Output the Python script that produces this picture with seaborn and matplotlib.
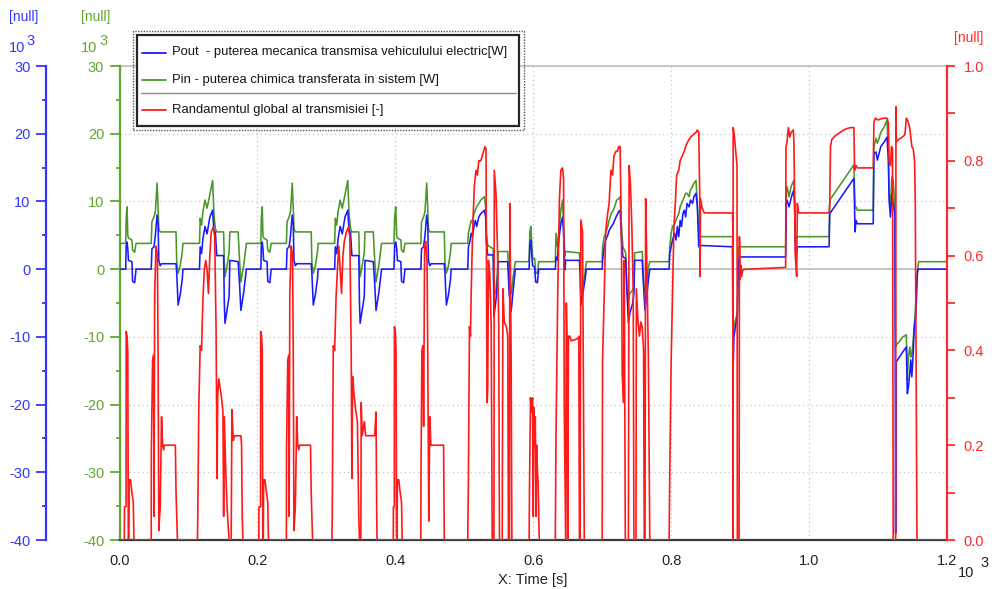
import matplotlib
matplotlib.use("Agg")
import matplotlib.pyplot as plt
from matplotlib.lines import Line2D
from matplotlib.patches import Rectangle
from matplotlib.ticker import MultipleLocator, FixedLocator
import numpy as np
import pandas as pd
import seaborn as sns

# ---------------------------------------------------------------------------
# Data: time in 10^3 s, power in 10^3 W, efficiency as fraction
# ---------------------------------------------------------------------------
# shared time base for the two power traces
power_time = [
    # urban cycle 1
    0.000, 0.001, 0.009, 0.0097, 0.011, 0.012, 0.013, 0.018, 0.019, 0.022, 0.024,
    0.046, 0.047, 0.050, 0.052, 0.0545, 0.056, 0.057, 0.059, 0.061, 0.082, 0.083, 0.085, 0.088, 0.091, 0.092,
    0.116, 0.117, 0.119, 0.121, 0.124, 0.127, 0.131, 0.135, 0.137, 0.139, 0.141, 0.151, 0.152, 0.153, 0.156,
    0.159, 0.160, 0.172, 0.174, 0.176, 0.180, 0.184,
    # urban cycle 2
    0.205, 0.2057, 0.207, 0.208, 0.209, 0.214, 0.215, 0.218, 0.220,
    0.242, 0.243, 0.246, 0.248, 0.2505, 0.252, 0.253, 0.255, 0.257, 0.278, 0.279, 0.281, 0.284, 0.287, 0.288,
    0.312, 0.313, 0.315, 0.317, 0.320, 0.323, 0.327, 0.331, 0.333, 0.335, 0.337, 0.347, 0.348, 0.349, 0.352,
    0.355, 0.356, 0.368, 0.370, 0.372, 0.376, 0.380,
    # urban cycle 3
    0.398, 0.399, 0.4005, 0.402, 0.403, 0.408, 0.409, 0.412, 0.414,
    0.437, 0.438, 0.441, 0.443, 0.4455, 0.447, 0.448, 0.450, 0.452, 0.471, 0.472, 0.474, 0.477, 0.480, 0.481,
    0.505, 0.506, 0.508, 0.510, 0.512, 0.514, 0.516, 0.518, 0.521, 0.524, 0.529, 0.531, 0.532, 0.534, 0.542,
    0.543, 0.546, 0.548, 0.549, 0.563, 0.565, 0.568, 0.571, 0.574,
    # urban cycle 4
    0.594, 0.595, 0.5965, 0.598, 0.599, 0.602, 0.6035, 0.606, 0.608,
    0.632, 0.633, 0.635, 0.637, 0.640, 0.6425, 0.644, 0.646, 0.647, 0.667, 0.668, 0.669, 0.672, 0.675, 0.677,
    0.700, 0.7005, 0.703, 0.705, 0.708, 0.710, 0.713, 0.716, 0.718, 0.721, 0.724, 0.726, 0.728, 0.730, 0.734,
    0.736, 0.738, 0.740, 0.744, 0.746, 0.747, 0.758, 0.760, 0.762, 0.765, 0.767, 0.769,
    # extra-urban cycle
    0.797, 0.798, 0.800, 0.802, 0.805, 0.807, 0.809, 0.811, 0.813, 0.815, 0.817, 0.819, 0.821, 0.823, 0.826,
    0.828, 0.831, 0.833, 0.836, 0.838, 0.840, 0.842, 0.889, 0.8897, 0.891, 0.893, 0.896, 0.897, 0.898, 0.900,
    0.966, 0.967, 0.968, 0.971, 0.974, 0.976, 0.978, 0.979, 0.980, 0.981, 0.983, 1.029, 1.030, 1.065, 1.0667,
    1.068, 1.070, 1.093, 1.094, 1.097, 1.099, 1.102, 1.104, 1.109, 1.113, 1.115, 1.116, 1.118, 1.120, 1.122,
    1.1245, 1.1255, 1.1262, 1.131, 1.136, 1.141, 1.1425, 1.144, 1.146, 1.1475, 1.149, 1.151, 1.1525, 1.1546,
    1.156, 1.157, 1.158, 1.159, 1.198,
]

# Pout - mechanical power delivered by the transmission
pout_kw = [
    0.0, 0.0, 0.0, 3.5, 4.0, 3.0, 1.3, 1.1, -1.8, -2.0, 0.0,
    0.0, 3.0, 3.3, 5.0, 8.0, 6.5, 1.3, 0.5, 0.8, 0.8, -0.6, -5.3, -3.8, -1.5, 0.0,
    0.0, 3.3, 2.3, 4.5, 6.3, 5.2, 7.7, 8.7, 5.5, 5.5, 2.0, 2.0, -5.0, -8.0, -6.0,
    -4.0, 1.3, 1.1, -2.0, -6.1, -3.5, 0.0,
    0.0, 3.5, 4.0, 3.0, 1.3, 1.1, -1.8, -2.0, 0.0,
    0.0, 3.0, 3.3, 5.0, 8.0, 6.5, 1.3, 0.5, 0.8, 0.8, -0.6, -5.3, -3.8, -1.5, 0.0,
    0.0, 3.3, 2.3, 4.5, 6.3, 5.2, 7.7, 8.7, 5.5, 5.5, 2.0, 2.0, -5.0, -8.0, -6.0,
    -4.0, 1.3, 1.1, -2.0, -6.1, -3.5, 0.0,
    0.0, 3.5, 4.0, 3.0, 1.3, 1.1, -1.8, -2.0, 0.0,
    0.0, 3.0, 3.3, 5.0, 8.0, 6.5, 1.3, 0.5, 0.8, 0.8, -0.6, -5.3, -3.8, -1.5, 0.0,
    0.0, 3.3, 4.0, 5.3, 4.8, 6.3, 7.2, 6.3, 7.7, 8.2, 8.7, 7.7, 4.0, 2.1, 2.1,
    -7.0, -4.5, -2.0, 1.1, 1.1, -3.6, -6.2, -3.0, 0.0,
    0.0, 3.5, 4.3, 2.0, 0.5, 0.3, -1.9, -2.0, 0.0,
    0.0, 1.8, 1.3, 4.3, 6.7, 7.7, 5.3, -0.1, 1.3, 1.3, -0.6, -5.3, -3.6, -1.6, 0.0,
    0.0, 1.3, 3.3, 4.3, 5.0, 5.7, 6.25, 6.7, 7.2, 7.9, 8.5, 8.7, 4.3, 1.8, 1.6,
    -3.6, -8.0, -6.5, -5.1, -3.6, 1.3, 1.3, -2.6, -6.1, -3.6, -1.6, 0.0,
    0.0, 2.3, 3.3, 4.3, 5.3, 4.3, 6.3, 4.8, 7.2, 6.3, 8.2, 8.7, 7.7, 9.7, 9.2,
    10.2, 9.7, 10.7, 11.2, 9.2, 3.3, 3.5, 3.3, -15.9, -10.0, -8.6, -7.0, -1.1, 1.3, 1.8,
    1.8, 9.7, 10.2, 9.2, 10.5, 11.2, 11.7, 9.7, 3.3, 1.3, 3.3, 3.3, 8.2, 13.4, 5.5,
    7.2, 6.7, 6.7, 17.1, 17.3, 16.1, 17.3, 18.1, 18.8, 19.5, 16.1, 10.2, 7.7, 11.2, 9.7,
    8.2, -39.0, -13.7, -13.0, -12.2, -11.5, -18.4, -17.4, -15.4, -13.4, -15.9, -12.4, -8.5, -7.0,
    -3.6, -0.6, 0.0, 0.0, 0.0,
]

# Pin - chemical power drawn into the system
pin_kw = [
    0.0, 3.8, 3.8, 7.5, 9.2, 5.0, 4.6, 4.3, 2.8, 2.5, 3.8,
    3.8, 7.0, 7.7, 8.5, 12.7, 9.0, 6.0, 5.5, 5.5, 5.5, 1.0, -0.6, 0.5, 2.5, 3.8,
    3.8, 7.5, 6.5, 8.5, 10.2, 9.0, 11.0, 13.1, 8.0, 6.0, 5.5, 5.5, 1.0, -1.1, 0.5,
    2.5, 5.5, 5.5, 1.5, -1.9, 0.5, 3.8,
    3.8, 7.5, 9.2, 5.0, 4.6, 4.3, 2.8, 2.5, 3.8,
    3.8, 7.0, 7.7, 8.5, 12.7, 9.0, 6.0, 5.5, 5.5, 5.5, 1.0, -0.6, 0.5, 2.5, 3.8,
    3.8, 7.5, 6.5, 8.5, 10.2, 9.0, 11.0, 13.1, 8.0, 6.0, 5.5, 5.5, 1.0, -1.1, 0.5,
    2.5, 5.5, 5.5, 1.5, -1.9, 0.5, 3.8,
    3.8, 7.5, 9.2, 5.0, 4.6, 4.3, 2.8, 2.5, 3.8,
    3.8, 7.0, 7.7, 8.5, 12.7, 9.0, 6.0, 5.5, 5.5, 5.5, 1.0, -0.6, 0.5, 2.5, 3.8,
    3.8, 5.3, 6.3, 7.2, 6.8, 8.2, 8.7, 9.2, 9.7, 10.2, 10.7, 9.2, 5.3, 3.5, 3.0,
    -4.1, -3.0, -0.5, 2.6, 2.6, -1.4, -3.6, -1.0, 1.1,
    1.1, 5.5, 6.3, 3.5, 1.6, 1.6, -0.6, -0.6, 1.1,
    1.1, 5.3, 3.3, 5.3, 8.7, 10.2, 6.3, 2.0, 2.6, 2.4, 0.3, -3.6, -2.6, -0.6, 1.1,
    1.1, 3.3, 4.8, 5.3, 6.3, 7.2, 8.2, 8.7, 9.2, 10.2, 10.4, 10.7, 6.3, 3.3, 2.4,
    -3.1, -4.6, -3.6, -3.1, -2.6, 2.4, 2.6, -1.6, -3.6, -1.6, 0.3, 1.1,
    1.1, 3.3, 5.3, 6.3, 6.7, 7.2, 7.7, 8.2, 9.2, 9.7, 10.2, 10.7, 11.2, 11.2, 10.7,
    11.7, 12.2, 12.7, 13.1, 9.7, 5.3, 4.8, 4.8, -9.5, -8.6, -7.6, -6.5, -0.6, 3.3, 3.3,
    3.3, 11.2, 12.2, 10.7, 12.2, 12.7, 13.1, 9.7, 4.0, 4.8, 4.8, 4.8, 10.2, 15.4, 9.0,
    9.2, 8.7, 8.7, 18.1, 19.3, 18.6, 19.5, 20.2, 21.0, 22.0, 17.1, 11.2, 9.2, 13.6, 13.1,
    9.2, -11.5, -11.2, -10.7, -10.0, -9.7, -16.4, -13.0, -11.5, -13.0, -12.5, -10.5, -8.5, -5.0,
    -2.0, -0.6, 0.5, 1.1, 1.1,
]

# overall transmission efficiency
eta_time = [
    0.000, 0.007, 0.0072, 0.0095, 0.0097, 0.011, 0.012, 0.0128, 0.0135, 0.014, 0.016, 0.018, 0.020, 0.021,
    0.046, 0.0462, 0.048, 0.0495, 0.050, 0.051, 0.053, 0.055, 0.056, 0.057, 0.059, 0.061, 0.0625, 0.064,
    0.065, 0.081, 0.082, 0.083, 0.084,
    0.113, 0.1135, 0.115, 0.117, 0.119, 0.121, 0.123, 0.125, 0.127, 0.129, 0.131, 0.133, 0.136, 0.138,
    0.140, 0.1415, 0.1425, 0.144, 0.146, 0.148, 0.150, 0.151, 0.152, 0.154, 0.156, 0.158, 0.159, 0.162,
    0.163, 0.165, 0.167, 0.176, 0.177, 0.178, 0.179,
    0.202, 0.2022, 0.2045, 0.2047, 0.206, 0.207, 0.2078, 0.2085, 0.209, 0.211, 0.213, 0.215, 0.216,
    0.242, 0.2422, 0.244, 0.2455, 0.246, 0.247, 0.249, 0.251, 0.252, 0.253, 0.255, 0.257, 0.2585, 0.260,
    0.261, 0.277, 0.278, 0.279, 0.280,
    0.308, 0.3085, 0.310, 0.312, 0.314, 0.316, 0.318, 0.320, 0.322, 0.324, 0.326, 0.329, 0.332, 0.334,
    0.336, 0.337, 0.338, 0.340, 0.342, 0.345, 0.347, 0.348, 0.350, 0.3505, 0.352, 0.355, 0.357, 0.370,
    0.372, 0.373, 0.3735,
    0.397, 0.3972, 0.3985, 0.3987, 0.400, 0.401, 0.4018, 0.4025, 0.403, 0.405, 0.407, 0.409, 0.410,
    0.437, 0.4372, 0.4385, 0.440, 0.441, 0.4425, 0.444, 0.446, 0.447, 0.4485, 0.450, 0.4515, 0.453,
    0.470, 0.471,
    0.505, 0.506, 0.5075, 0.509, 0.510, 0.512, 0.5145, 0.517, 0.519, 0.521, 0.524, 0.526, 0.528, 0.530,
    0.5315, 0.533, 0.534, 0.535, 0.537, 0.539, 0.5405, 0.543, 0.5435, 0.546, 0.548, 0.550, 0.551, 0.555,
    0.556, 0.558, 0.561, 0.563, 0.564, 0.5655, 0.566, 0.568, 0.569,
    0.594, 0.5945, 0.596, 0.5975, 0.599, 0.600, 0.601, 0.602, 0.603, 0.604, 0.605, 0.606, 0.607, 0.608,
    0.6087,
    0.632, 0.633, 0.6355, 0.638, 0.640, 0.6425, 0.644, 0.645, 0.647, 0.648, 0.649, 0.650, 0.651, 0.653,
    0.655, 0.665, 0.666, 0.667, 0.668, 0.669, 0.6715, 0.674,
    0.700, 0.7005, 0.703, 0.705, 0.708, 0.710, 0.7126, 0.715, 0.717, 0.720, 0.722, 0.724, 0.726, 0.728,
    0.729, 0.731, 0.732, 0.7335, 0.738, 0.739, 0.741, 0.743, 0.745, 0.746, 0.749, 0.7495, 0.752, 0.754,
    0.756, 0.758, 0.760, 0.761, 0.762, 0.763, 0.765, 0.767, 0.769,
    0.797, 0.798, 0.800, 0.802, 0.804, 0.806, 0.808, 0.811, 0.813, 0.816, 0.819, 0.821, 0.824, 0.828,
    0.832, 0.836, 0.838, 0.840, 0.8415, 0.842, 0.8425, 0.845, 0.848, 0.889, 0.8895, 0.8897, 0.8899, 0.891,
    0.893, 0.8955, 0.896, 0.8985, 0.899, 0.900, 0.901, 0.902, 0.904, 0.906, 0.966, 0.9665, 0.968, 0.970,
    0.972, 0.974, 0.977, 0.978, 0.979, 0.980, 0.982, 0.983, 0.985, 1.029, 1.030, 1.031, 1.033, 1.036,
    1.040, 1.045, 1.050, 1.055, 1.060, 1.065, 1.066, 1.068, 1.070, 1.093, 1.094, 1.096, 1.100, 1.105,
    1.110, 1.113, 1.115, 1.116, 1.118, 1.1195, 1.121, 1.122, 1.1255, 1.126, 1.1265, 1.130, 1.135, 1.139,
    1.141, 1.143, 1.146, 1.149, 1.151, 1.153, 1.154, 1.1565, 1.198,
]

eta_values = [
    0.0, 0.0, 0.07, 0.07, 0.44, 0.43, 0.40, 0.0, 0.0, 0.127, 0.127, 0.10, 0.08, 0.0,
    0.0, 0.19, 0.38, 0.39, 0.05, 0.52, 0.62, 0.60, 0.38, 0.02, 0.07, 0.26, 0.20, 0.19,
    0.20, 0.20, 0.10, 0.05, 0.0,
    0.0, 0.05, 0.28, 0.41, 0.40, 0.51, 0.57, 0.59, 0.57, 0.52, 0.60, 0.65, 0.66, 0.64,
    0.45, 0.13, 0.31, 0.34, 0.32, 0.30, 0.27, 0.05, 0.26, 0.15, 0.07, 0.02, 0.0, 0.0,
    0.275, 0.21, 0.22, 0.22, 0.20, 0.05, 0.0,
    0.0, 0.07, 0.07, 0.44, 0.43, 0.40, 0.0, 0.0, 0.127, 0.127, 0.10, 0.08, 0.0,
    0.0, 0.19, 0.38, 0.39, 0.05, 0.52, 0.62, 0.60, 0.38, 0.02, 0.07, 0.26, 0.20, 0.19,
    0.20, 0.20, 0.10, 0.05, 0.0,
    0.0, 0.05, 0.41, 0.40, 0.51, 0.57, 0.62, 0.57, 0.52, 0.60, 0.63, 0.65, 0.66, 0.64,
    0.40, 0.13, 0.345, 0.31, 0.28, 0.25, 0.05, 0.0, 0.0, 0.29, 0.22, 0.25, 0.22, 0.22,
    0.27, 0.05, 0.0,
    0.0, 0.07, 0.07, 0.45, 0.44, 0.40, 0.0, 0.0, 0.127, 0.127, 0.10, 0.08, 0.0,
    0.0, 0.14, 0.40, 0.41, 0.24, 0.62, 0.63, 0.59, 0.40, 0.04, 0.26, 0.20, 0.20,
    0.20, 0.0,
    0.0, 0.13, 0.45, 0.43, 0.52, 0.65, 0.745, 0.78, 0.77, 0.80, 0.80, 0.81, 0.82, 0.83,
    0.825, 0.29, 0.32, 0.59, 0.56, 0.45, 0.0, 0.0, 0.78, 0.73, 0.62, 0.45, 0.0, 0.0,
    0.53, 0.46, 0.45, 0.43, 0.0, 0.0, 0.71, 0.38, 0.0,
    0.0, 0.10, 0.30, 0.27, 0.30, 0.05, 0.28, 0.20, 0.26, 0.05, 0.20, 0.15, 0.12, 0.05,
    0.0,
    0.0, 0.22, 0.52, 0.72, 0.78, 0.785, 0.76, 0.28, 0.0, 0.50, 0.42, 0.0, 0.43, 0.43,
    0.42, 0.425, 0.43, 0.0, 0.0, 0.675, 0.65, 0.0,
    0.0, 0.38, 0.52, 0.65, 0.69, 0.71, 0.78, 0.77, 0.81, 0.82, 0.82, 0.83, 0.83, 0.62,
    0.35, 0.29, 0.59, 0.0, 0.0, 0.79, 0.75, 0.66, 0.52, 0.0, 0.0, 0.53, 0.46, 0.43,
    0.46, 0.45, 0.40, 0.0, 0.0, 0.72, 0.56, 0.38, 0.0,
    0.0, 0.14, 0.38, 0.52, 0.66, 0.71, 0.77, 0.78, 0.80, 0.81, 0.82, 0.83, 0.84, 0.85,
    0.855, 0.86, 0.865, 0.86, 0.72, 0.556, 0.72, 0.70, 0.69, 0.69, 0.66, 0.0, 0.87, 0.86,
    0.83, 0.79, 0.0, 0.0, 0.64, 0.55, 0.58, 0.556, 0.57, 0.571, 0.575, 0.83, 0.84, 0.87,
    0.85, 0.86, 0.865, 0.84, 0.71, 0.60, 0.556, 0.71, 0.69, 0.69, 0.71, 0.83, 0.845, 0.85,
    0.855, 0.86, 0.865, 0.868, 0.87, 0.87, 0.78, 0.79, 0.785, 0.785, 0.88, 0.89, 0.886, 0.889,
    0.89, 0.89, 0.88, 0.80, 0.79, 0.83, 0.826, 0.0, 0.0, 0.914, 0.84, 0.845, 0.85, 0.855,
    0.89, 0.885, 0.87, 0.83, 0.826, 0.80, 0.71, 0.0, 0.0,
]

x_ticks = [0.0, 0.2, 0.4, 0.6, 0.8, 1.0, 1.2]
x_tick_labels = ["0.0", "0.2", "0.4", "0.6", "0.8", "1.0", "1.2"]
power_ticks = [30, 20, 10, 0, -10, -20, -30, -40]
power_tick_labels = ["30", "20", "10", "0", "-10", "-20", "-30", "-40"]
eta_ticks = [0.0, 0.2, 0.4, 0.6, 0.8, 1.0]
eta_tick_labels = ["0.0", "0.2", "0.4", "0.6", "0.8", "1.0"]

legend_labels = [
    "Pout  - puterea mecanica transmisa vehiculului electric[W]",
    "Pin - puterea chimica transferata in sistem [W]",
    "Randamentul global al transmisiei [-]",
]

# ---------------------------------------------------------------------------
# Styling
# ---------------------------------------------------------------------------
sns.set_theme(style="white")
plt.rcParams["font.family"] = ["Liberation Sans", "DejaVu Sans"]

C_BLUE = "#1a1aff"
C_GREEN = "#4b9628"
C_RED = "#ff1a1a"
L_BLUE = "#3535ff"
L_GREEN = "#5fa830"
L_RED = "#ff2a2a"
GRID = "#c4c4c4"

W, H = 992, 589
fig = plt.figure(figsize=(W / 100, H / 100), dpi=100)
fig.patch.set_facecolor("white")


def fx(px):
    return px / W


def fy(py):
    return 1 - py / H


left, right, top, bottom = 119.5, 947.0, 66.0, 540.0
ax = fig.add_axes([fx(left), fy(bottom), (right - left) / W, (bottom - top) / H])
ax.set_facecolor("white")

power = pd.DataFrame({"time": power_time, "pout": pout_kw, "pin": pin_kw})
efficiency = pd.DataFrame({"time": eta_time, "eta": eta_values})

ax.axhline(0, color=GRID, lw=1.4, zorder=1)
sns.lineplot(data=power, x="time", y="pin", ax=ax, color=C_GREEN, lw=1.15,
             estimator=None, sort=False, legend=False, zorder=3)
sns.lineplot(data=power, x="time", y="pout", ax=ax, color=C_BLUE, lw=1.15,
             estimator=None, sort=False, legend=False, zorder=4)

ax.set_xlim(0, 1.2)
ax.set_ylim(-40, 30)
ax.set_xlabel("")
ax.set_ylabel("")
ax.xaxis.set_major_locator(FixedLocator(x_ticks))
ax.set_xticklabels(x_tick_labels)
ax.xaxis.set_minor_locator(MultipleLocator(0.1))
ax.yaxis.set_major_locator(FixedLocator(power_ticks))
ax.set_yticklabels(power_tick_labels)
ax.yaxis.set_minor_locator(MultipleLocator(5))
ax.grid(True, which="major", linestyle=(0, (1, 2.5)), color=GRID, lw=0.9)
ax.set_axisbelow(True)

for s in ("top", "right"):
    ax.spines[s].set_visible(False)
ax.spines["left"].set_color(L_GREEN)
ax.spines["left"].set_linewidth(1.6)
ax.spines["bottom"].set_color("#3a3a3a")
ax.spines["bottom"].set_linewidth(1.6)
ax.plot([0, 1.2], [30, 30], color=GRID, lw=1.3, clip_on=False, zorder=2)

ax.tick_params(axis="y", which="major", direction="out", length=7, width=1.3,
               color=L_GREEN, labelcolor=L_GREEN, labelsize=10.5, pad=4)
ax.tick_params(axis="y", which="minor", direction="out", length=3, width=1.3, color=L_GREEN)
ax.tick_params(axis="x", which="major", direction="out", length=4, width=1.3,
               color="#3a3a3a", labelcolor="#222222", labelsize=10.5, pad=6)
ax.tick_params(axis="x", which="minor", direction="out", length=4, width=1.3, color="#3a3a3a")

# efficiency on the right-hand axis
ax2 = ax.twinx()
sns.lineplot(data=efficiency, x="time", y="eta", ax=ax2, color=C_RED, lw=1.2,
             estimator=None, sort=False, legend=False, zorder=5)
ax2.set_ylim(0, 1.0)
ax2.set_xlim(0, 1.2)
ax2.set_ylabel("")
ax2.yaxis.set_major_locator(FixedLocator(eta_ticks))
ax2.set_yticklabels(eta_tick_labels)
ax2.yaxis.set_minor_locator(MultipleLocator(0.1))
for s in ("top", "left", "bottom"):
    ax2.spines[s].set_visible(False)
ax2.spines["right"].set_color(L_RED)
ax2.spines["right"].set_linewidth(1.6)
ax2.tick_params(axis="y", which="major", direction="out", length=6, width=1.3,
                color=L_RED, labelcolor=L_RED, labelsize=10.5, pad=6)
ax2.tick_params(axis="y", which="minor", direction="out", length=6, width=1.3, color=L_RED)
ax2.grid(False)

# separate left axis for Pout, same scale as Pin
ax3 = ax.twinx()
ax3.set_ylim(-40, 30)
ax3.spines["left"].set_position(("axes", (46 - left) / (right - left)))
ax3.spines["left"].set_visible(True)
for s in ("top", "right", "bottom"):
    ax3.spines[s].set_visible(False)
ax3.yaxis.set_label_position("left")
ax3.yaxis.set_ticks_position("left")
ax3.yaxis.set_major_locator(FixedLocator(power_ticks))
ax3.set_yticklabels(power_tick_labels)
ax3.yaxis.set_minor_locator(MultipleLocator(5))
ax3.spines["left"].set_color(L_BLUE)
ax3.spines["left"].set_linewidth(1.6)
ax3.tick_params(axis="y", which="major", direction="out", length=7, width=1.3,
                color=L_BLUE, labelcolor=L_BLUE, labelsize=10.5, pad=4)
ax3.tick_params(axis="y", which="minor", direction="out", length=3, width=1.3, color=L_BLUE)
ax3.grid(False)

# unit captions above the axes
fig.text(fx(23.5), fy(17), "[null]", color=L_BLUE, fontsize=10, ha="center", va="center")
fig.text(fx(96), fy(17), "[null]", color=L_GREEN, fontsize=10, ha="center", va="center")
fig.text(fx(969), fy(38), "[null]", color=L_RED, fontsize=10, ha="center", va="center")
fig.text(fx(17.5), fy(48), "10", color=L_BLUE, fontsize=10.5, ha="center", va="center")
fig.text(fx(31), fy(41), "3", color=L_BLUE, fontsize=10.5, ha="center", va="center")
fig.text(fx(89.5), fy(48), "10", color=L_GREEN, fontsize=10.5, ha="center", va="center")
fig.text(fx(103.5), fy(41), "3", color=L_GREEN, fontsize=10.5, ha="center", va="center")
fig.text(fx(966), fy(573), "10", color="#222222", fontsize=10.5, ha="center", va="center")
fig.text(fx(985), fy(563), "3", color="#222222", fontsize=10.5, ha="center", va="center")
fig.text(fx(533), fy(580), "X: Time [s]", color="#222222", fontsize=10.5, ha="center", va="center")

# legend box
fig.add_artist(Rectangle((fx(133), fy(130)), (524 - 133) / W, (130 - 31) / H,
                         transform=fig.transFigure, fill=False, ec="#555555",
                         lw=1.0, ls=(0, (1, 1)), zorder=20))
fig.add_artist(Rectangle((fx(137), fy(126)), (519 - 137) / W, (126 - 35) / H,
                         transform=fig.transFigure, facecolor="white", ec="#262626",
                         lw=1.6, zorder=21))
legend_rows = [(52.5, C_BLUE), (79.5, C_GREEN), (110.5, C_RED)]
for (row_y, col), text in zip(legend_rows, legend_labels):
    fig.add_artist(Line2D([fx(142), fx(166)], [fy(row_y), fy(row_y)], color=col, lw=1.3,
                          transform=fig.transFigure, zorder=22))
    fig.text(fx(171.5), fy(row_y), text, color="#151515", fontsize=9.4,
             ha="left", va="center", zorder=22)
fig.add_artist(Line2D([fx(141), fx(516)], [fy(92.7), fy(92.7)], color="#8c8c8c", lw=1.0,
                      transform=fig.transFigure, zorder=22))

fig.savefig("out.png", dpi=100, facecolor="white")
